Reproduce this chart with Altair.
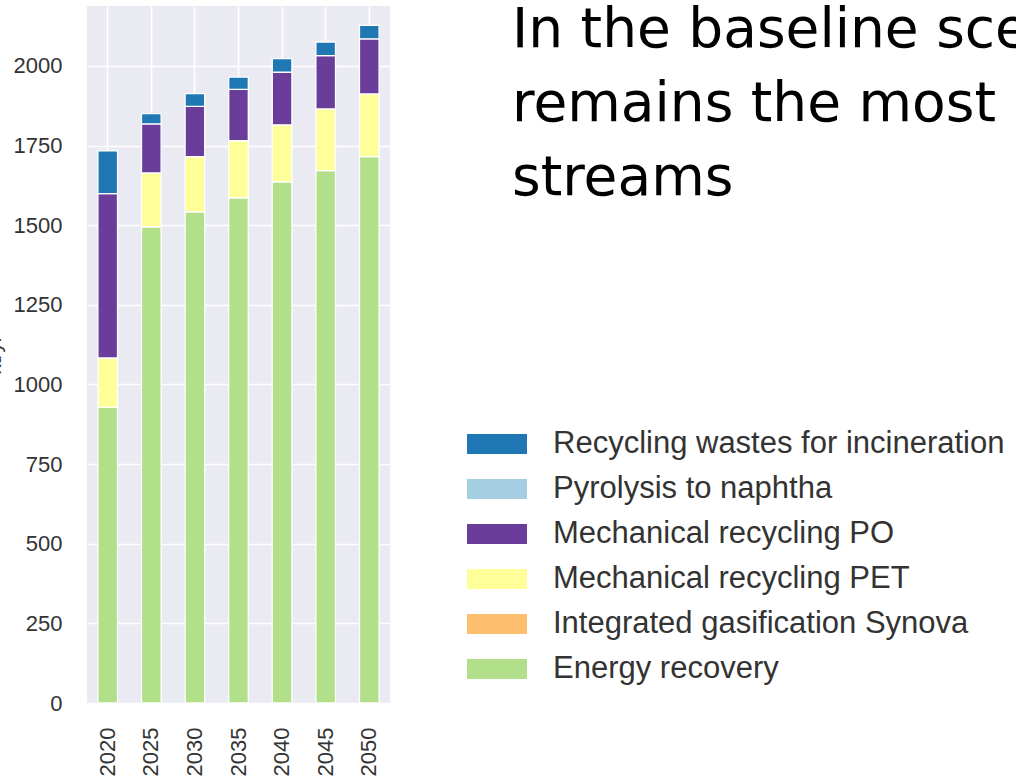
import altair as alt
import pandas as pd

# Treatment volumes per year (kt/yr), baseline scenario
years = ["2020", "2025", "2030", "2035", "2040", "2045", "2050"]
energy_recovery = [928, 1495, 1542, 1586, 1636, 1671, 1715]
gasification_synova = [0, 0, 0, 0, 0, 0, 0]
mech_recycling_pet = [155, 169, 173, 179, 179, 194, 197]
mech_recycling_po = [516, 154, 158, 161, 165, 167, 173]
pyrolysis_naphtha = [0, 0, 0, 0, 0, 0, 0]
incineration_wastes = [134, 32, 40, 39, 43, 43, 42]

# Stack order, bottom to top
stream_names = [
    "Energy recovery",
    "Integrated gasification Synova",
    "Mechanical recycling PET",
    "Mechanical recycling PO",
    "Pyrolysis to naphtha",
    "Recycling wastes for incineration",
]
stream_values = [
    energy_recovery,
    gasification_synova,
    mech_recycling_pet,
    mech_recycling_po,
    pyrolysis_naphtha,
    incineration_wastes,
]
stream_colors = ["#b2df8a", "#fdbf6f", "#ffff99", "#6a3d9a", "#a6cee3", "#1f78b4"]

y_ticks = [0, 250, 500, 750, 1000, 1250, 1500, 1750, 2000]
headline_lines = [
    "In the baseline scenario, energy recovery",
    "remains the most important route for waste",
    "streams",
]

rows = []
for level, (name, values) in enumerate(zip(stream_names, stream_values)):
    for year, v in zip(years, values):
        rows.append({"year": year, "stream": name, "value": v, "level": level})
df = pd.DataFrame(rows)

legend_order = stream_names[::-1]
legend_colors = stream_colors[::-1]

bars = (
    alt.Chart(df)
    .transform_filter("datum.value > 0")
    .mark_bar(stroke="white", strokeWidth=1.3)
    .encode(
        x=alt.X(
            "year:O",
            sort=years,
            scale=alt.Scale(paddingInner=0.55, paddingOuter=0.25),
            axis=alt.Axis(
                title=None,
                labelAngle=270,
                labelFontSize=22,
                labelPadding=24,
                grid=True,
                bandPosition=0.5,
            ),
        ),
        y=alt.Y(
            "value:Q",
            stack="zero",
            scale=alt.Scale(domain=[0, 2188], nice=False, zero=True),
            axis=alt.Axis(
                values=y_ticks,
                format="d",
                title="kt/yr",
                titleFontSize=21,
                titleFontWeight="normal",
                titleColor="#333333",
                titlePadding=9,
                labelFontSize=22,
                labelPadding=25,
            ),
        ),
        color=alt.Color(
            "stream:N",
            scale=alt.Scale(domain=legend_order, range=legend_colors),
            legend=alt.Legend(
                title=None,
                orient="none",
                legendX=380,
                legendY=408,
                symbolType="M-1,-0.333H1V0.333H-1Z",
                symbolSize=3600,
                symbolStrokeWidth=0,
                symbolOpacity=1,
                labelFontSize=31,
                labelFont="Liberation Sans",
                labelColor="#333333",
                labelOffset=26,
                labelLimit=700,
                rowPadding=-1,
            ),
        ),
        order=alt.Order("level:Q", sort="ascending"),
    )
)

headline = (
    alt.Chart(pd.DataFrame({"k": [0]}))
    .mark_text(
        text=headline_lines,
        align="left",
        baseline="alphabetic",
        font="DejaVu Sans",
        fontSize=55,
        lineHeight=74,
        color="#000000",
    )
    .encode(x=alt.value(425), y=alt.value(41))
)

chart = (
    alt.layer(bars, headline)
    .properties(
        width=303,
        height=697,
        autosize=alt.AutoSizeParams(type="none"),
        padding={"left": 87, "top": 6, "right": 626, "bottom": 78},
        background="white",
    )
    .configure_view(fill="#eaeaf2", strokeWidth=0)
    .configure_axis(
        gridColor="white",
        gridWidth=1.6,
        gridOpacity=1,
        ticks=False,
        domain=False,
        labelFont="Liberation Sans",
        titleFont="Liberation Sans",
        labelColor="#333333",
    )
)

chart.save("out.html", embed_options={"renderer": "svg", "actions": False})
